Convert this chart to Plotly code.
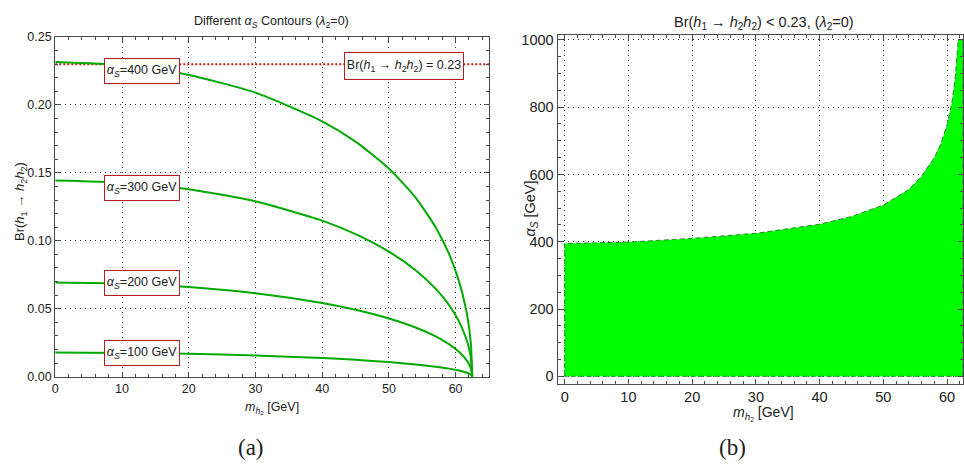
import plotly.graph_objects as go

# ---------------- data ----------------
# Panel (a): Br(h1 -> h2 h2) vs m_h2 for several alpha_S
m_h2 = [0, 10, 20, 30, 40, 45, 50, 54, 57, 59, 60.5, 61.5, 62, 62.3, 62.5]
br_100 = [0.0177, 0.0175, 0.0168, 0.0156, 0.0137, 0.0124, 0.0107, 0.0090, 0.0073, 0.0059, 0.0045, 0.0032, 0.0023, 0.0014, 0.0]
br_200 = [0.0694, 0.0686, 0.0660, 0.0614, 0.0542, 0.0492, 0.0428, 0.0362, 0.0297, 0.0240, 0.0184, 0.0131, 0.0093, 0.0059, 0.0]
br_300 = [0.1445, 0.1429, 0.1380, 0.1291, 0.1149, 0.1049, 0.0920, 0.0784, 0.0648, 0.0528, 0.0407, 0.0292, 0.0209, 0.0133, 0.0]
br_400 = [0.2316, 0.2293, 0.2221, 0.2091, 0.1880, 0.1730, 0.1532, 0.1318, 0.1100, 0.0905, 0.0703, 0.0510, 0.0367, 0.0235, 0.0]
curve_alphas = ["100", "200", "300", "400"]
curve_series = [br_100, br_200, br_300, br_400]
label_m = 13.05
label_br = [0.0172, 0.0690, 0.1390, 0.2250]
br_limit = 0.23

# Panel (b): allowed region alpha_S vs m_h2
bound_m = [0, 10, 20, 30, 40, 45, 50, 54, 56, 58, 59, 60, 60.8, 61.3, 61.75]
bound_alpha = [395, 399, 410, 425, 452, 475, 509, 555, 595, 650, 690, 748, 818, 892, 1000]
m_max = 62.5
alpha_max = 1000

# ---------------- styling ----------------
W, H = 964, 470
GREEN_LINE = "rgb(0,170,0)"
RED = "rgb(180,30,30)"
AX = "#4a4a4a"
GRID = "#333333"
FONT = "Liberation Sans"

def px(x):
    return x / W

def py(y):
    return 1 - y / H

fig = go.Figure()

# red dotted limit line (panel a)
fig.add_trace(go.Scatter(x=[0, 65], y=[br_limit, br_limit], mode="lines",
                         line=dict(color=RED, width=2, dash="2px,2px"),
                         xaxis="x", yaxis="y", showlegend=False, hoverinfo="skip"))
for s in curve_series:
    fig.add_trace(go.Scatter(x=m_h2, y=s, mode="lines",
                             line=dict(color=GREEN_LINE, width=2, shape="spline", smoothing=0.6),
                             xaxis="x", yaxis="y", showlegend=False))

# allowed region (panel b)
reg_x = [0] + bound_m + [m_max, m_max, 0]
reg_y = [0] + bound_alpha + [alpha_max, 0, 0]
fig.add_trace(go.Scatter(x=reg_x, y=reg_y, mode="lines", fill="toself",
                         fillcolor="#00ff00",
                         line=dict(color="rgb(50,130,50)", width=1, dash="5px,3px"),
                         xaxis="x2", yaxis="y2", showlegend=False))

common_axis = dict(showline=True, linecolor=AX, linewidth=1.3, mirror="allticks",
                   ticks="inside", ticklen=5, tickcolor=AX, tickwidth=1,
                   showgrid=True, gridcolor=GRID, griddash="1px,4px", gridwidth=1,
                   zeroline=False)

fig.update_layout(
    width=W, height=H, margin=dict(l=0, r=0, t=0, b=0),
    paper_bgcolor="white", plot_bgcolor="white",
    font=dict(family=FONT, color="#222222"),
    xaxis=dict(domain=[px(52.5), px(488)], range=[0, 65], dtick=10, tick0=0,
               minor=dict(dtick=2, ticks="inside", ticklen=3, tickcolor=AX, showgrid=False),
               tickfont=dict(size=12.5), anchor="y", **common_axis),
    yaxis=dict(domain=[py(381), py(31)], range=[0, 0.25], dtick=0.05, tick0=0,
               tickformat=".2f",
               minor=dict(dtick=0.01, ticks="inside", ticklen=3, tickcolor=AX, showgrid=False),
               tickfont=dict(size=12.5), anchor="x", **common_axis),
    xaxis2=dict(domain=[px(557), 1.0], range=[-1.1, 62.5], dtick=10, tick0=0,
                minor=dict(dtick=2, ticks="inside", ticklen=3, tickcolor=AX, showgrid=False),
                tickfont=dict(size=14.5), anchor="y2", **common_axis),
    yaxis2=dict(domain=[py(388.3), py(29)], range=[-22, 1014], dtick=200, tick0=0,
                minor=dict(dtick=50, ticks="inside", ticklen=3, tickcolor=AX, showgrid=False),
                tickfont=dict(size=14.5), anchor="x2", **common_axis),
)
fig.layout.yaxis2.mirror = "ticks"

ann = []
# curve labels
for a, yb in zip(curve_alphas, label_br):
    ann.append(dict(x=label_m, y=yb, xref="x", yref="y",
                    text=f"<i>α</i><sub><i>S</i></sub>={a} GeV",
                    showarrow=False, bgcolor="white", bordercolor=RED, borderwidth=1,
                    borderpad=1, width=72, height=22, font=dict(size=12.5, color="#222")))
ann.append(dict(x=52.2, y=0.2285, xref="x", yref="y",
                text="Br(<i>h</i><sub>1</sub> → <i>h</i><sub>2</sub><i>h</i><sub>2</sub>) = 0.23",
                showarrow=False, bgcolor="white", bordercolor=RED, borderwidth=1,
                borderpad=1, width=116, height=24, font=dict(size=12.5, color="#222")))

def paper_text(x, y, text, size, angle=0, family=FONT):
    return dict(x=px(x), y=py(y), xref="paper", yref="paper", text=text,
                showarrow=False, textangle=angle, xanchor="center", yanchor="middle",
                font=dict(size=size, family=family, color="#222"))

ann.append(paper_text(270, 15, "Different <i>α</i><sub><i>S</i></sub> Contours (<i>λ</i><sub>2</sub>=0)", 12.5))
ann.append(paper_text(764, 16, "Br(<i>h</i><sub>1</sub> → <i>h</i><sub>2</sub><i>h</i><sub>2</sub>) &lt; 0.23, (<i>λ</i><sub>2</sub>=0)", 14.5))
ann.append(paper_text(270, 413, "<i>m</i><sub><i>h</i><sub>2</sub></sub> [GeV]", 12.5))
ann.append(paper_text(764, 419, "<i>m</i><sub><i>h</i><sub>2</sub></sub> [GeV]", 14))
ann.append(paper_text(17, 200, "Br(<i>h</i><sub>1</sub> → <i>h</i><sub>2</sub><i>h</i><sub>2</sub>)", 13, angle=-90))
ann.append(paper_text(530, 208, "<i>α</i><sub><i>S</i></sub> [GeV]", 14.5, angle=-90))
ann.append(paper_text(249, 454, "(a)", 23, family="Liberation Serif"))
ann.append(paper_text(733, 454, "(b)", 23, family="Liberation Serif"))
fig.update_layout(annotations=ann)

fig.write_html("out.html")
